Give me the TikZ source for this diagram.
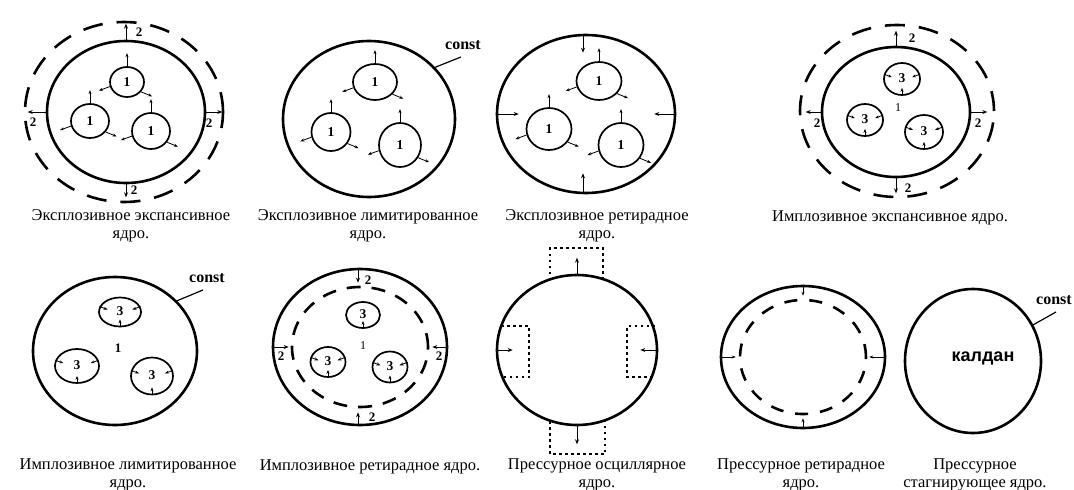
\documentclass[tikz,border=0pt]{standalone}
\usepackage{fontspec}
\setmainfont{Liberation Serif}
\newfontfamily\kaldanfont{Liberation Sans}
\usetikzlibrary{shapes.geometric,arrows.meta}

\tikzset{
  shell/.style={ellipse, draw, line width=2.6pt, inner sep=0pt},
  dashshell/.style={ellipse, draw, line width=2.6pt, inner sep=0pt},
  core/.style={ellipse, draw, line width=1.7pt, inner sep=0pt,
    font=\bfseries\fontsize{13.5}{13.5}\selectfont},
  tinyarr/.style={-{Stealth[length=4pt,width=3pt]}, line width=0.8pt},
  outarr/.style={-{Stealth[length=5pt,width=4pt]}, line width=1pt},
  numlbl/.style={font=\bfseries\fontsize{13}{13}\selectfont, inner sep=0pt},
  midlbl/.style={font=\fontsize{12}{12}\selectfont, inner sep=0pt},
  constlbl/.style={font=\bfseries\fontsize{16}{16}\selectfont, inner sep=0pt},
  leader/.style={line width=1.2pt},
  caption/.style={align=center, inner sep=0pt,
    font=\fontsize{16.5}{17.5}\selectfont},
  dotbox/.style={line width=1.8pt, dash pattern=on 2.5pt off 3.5pt}
}

% an exploding inner core: label 1, three arrows pointing outwards
\newcommand\expcore[5]{%
  \node[core, minimum width=#4, minimum height=#5] (#1) at (#2,#3) {1};
  \draw[tinyarr] (#1.north) -- ++(0,-13);
  \draw[tinyarr] (#1.195) -- ++(-11,4);
  \draw[tinyarr] (#1.-35) -- ++(11,4.5);
}
% an imploding inner core: label 3, arrows pointing inwards
\newcommand\impcore[5]{%
  \node[core, minimum width=#4, minimum height=#5] (#1) at (#2,#3) {\raisebox{1pt}{3}};
  \draw[tinyarr] (#1.165) -- ++(8,3);
  \draw[tinyarr] (#1.15) -- ++(-8,3);
  \draw[tinyarr] (#1.south) -- ++(0,-8);
}
\newcommand\impcoreup[5]{%
  \node[core, minimum width=#4, minimum height=#5] (#1) at (#2,#3) {\raisebox{1pt}{3}};
  \draw[tinyarr] (#1.south) -- ++(0,-8);
}

\begin{document}
\begin{tikzpicture}[x=1pt, y=-1pt]
\useasboundingbox (0,0) rectangle (1074,490);
\fill[white] (0,0) rectangle (1074,490);

% ---------- 1: explosive expansive core ----------
\node[dashshell, dash pattern=on 20pt off 14pt, minimum width=198, minimum height=180] (d1) at (124,112) {};
\node[shell, minimum width=158, minimum height=142] (o1) at (126,112) {};
\expcore{a1}{127}{82}{34}{30}
\expcore{b1}{90}{121}{38}{34}
\expcore{c1}{151}{131}{38}{36}
\draw[outarr] (o1.north) -- ++(0,-16);
\draw[outarr] (o1.west) -- ++(-18,0);
\draw[outarr] (o1.east) -- ++(16,0);
\draw[outarr] (o1.south) -- ++(0,13);
\node[numlbl] (t1n) at (139,32) {2};
\node[numlbl] (t1w) at (33,122) {2};
\node[numlbl] (t1e) at (209,123) {2};
\node[numlbl] (t1s) at (134,190) {2};
\node[caption] (cap1) at (131,226) {Эксплозивное экспансивное\\ядро.};

% ---------- 2: explosive limited core ----------
\node[shell, minimum width=172, minimum height=156] (o2) at (369,119) {};
\expcore{a2}{375}{82}{44}{36}
\expcore{b2}{331}{132}{39}{38}
\expcore{c2}{400}{145}{42}{44}
\coordinate (k2) at (461,57);
\draw[leader] (o2.38) -- (k2);
\node[constlbl] (const2) at (463,45) {const};
\node[caption] (cap2) at (368,226) {Эксплозивное лимитированное\\ядро.};

% ---------- 3: explosive retirade core ----------
\node[shell, minimum width=178, minimum height=158] (o3) at (586,114) {};
\expcore{a3}{599}{81}{45}{38}
\expcore{b3}{549}{129}{45}{42}
\expcore{c3}{621}{145}{45}{44}
\draw[outarr] ([xshift=-3pt]o3.north) -- ++(0,19);
\draw[outarr] (o3.west) -- ++(23,0);
\draw[outarr] (o3.east) -- ++(-22,0);
\draw[outarr] ([xshift=-3pt]o3.south) -- ++(0,-21);
\node[caption] (cap3) at (597,226) {Эксплозивное ретирадное\\ядро.};

% ---------- 4: implosive expansive core ----------
\node[dashshell, dash pattern=on 20pt off 14pt, minimum width=194, minimum height=172] (d4) at (897,111) {};
\node[shell, minimum width=148, minimum height=130] (o4) at (896,112) {};
\impcore{a4}{902}{79}{36}{32}
\impcore{b4}{865}{120}{36}{32}
\impcore{c4}{924}{132}{38}{34}
\node[midlbl] (m4) at (898,108) {1};
\draw[outarr] (o4.north) -- ++(0,-15);
\draw[outarr] (o4.west) -- ++(-15,0);
\draw[outarr] (o4.east) -- ++(16,0);
\draw[outarr] (o4.south) -- ++(0,15);
\node[numlbl] (t4n) at (912,38) {2};
\node[numlbl] (t4w) at (817,123) {2};
\node[numlbl] (t4e) at (978,123) {2};
\node[numlbl] (t4s) at (908,188) {2};
\node[caption] (cap4) at (890,218) {Имплозивное экспансивное ядро.};

% ---------- 5: implosive limited core ----------
\node[shell, minimum width=164, minimum height=148] (o5) at (115,351) {};
\impcore{a5}{120}{312}{42}{29}
\impcore{b5}{77}{366}{44}{34}
\impcore{c5}{152}{376}{42}{37}
\node[numlbl] (m5) at (118,348) {1};
\coordinate (k5) at (203,290);
\draw[leader] (o5.39) -- (k5);
\node[constlbl] (const5) at (207,278) {const};
\node[caption] (cap5) at (128,475) {Имплозивное лимитированное\\ядро.};

% ---------- 6: implosive retirade core ----------
\node[shell, minimum width=174, minimum height=156] (o6) at (360,347) {};
\node[dashshell, dash pattern=on 14pt off 11pt, minimum width=136, minimum height=120] (d6) at (360,347) {};
\impcoreup{a6}{363}{315}{34}{26}
\impcore{b6}{328}{362}{35}{30}
\impcore{c6}{390}{367}{35}{31}
\node[midlbl] (m6) at (363,346) {1};
\draw[outarr] ([xshift=-2pt]o6.north) -- ++(0,15);
\draw[outarr] (o6.west) -- ++(17,0);
\draw[outarr] (o6.east) -- ++(-16,0);
\draw[outarr] ([xshift=-2pt]o6.south) -- ++(0,-14);
\node[numlbl] (t6n) at (368,280) {2};
\node[numlbl] (t6w) at (281,356) {2};
\node[numlbl] (t6e) at (439,356) {2};
\node[numlbl] (t6s) at (372,417) {2};
\node[caption] (cap6) at (370,467) {Имплозивное ретирадное ядро.};

% ---------- 7: pressure oscillating core ----------
\node[shell, minimum width=160, minimum height=150] (o7) at (577,350) {};
\draw[dotbox] (550,280) -- (550,248) -- (603,248) -- (603,280);
\draw[dotbox] (550,421) -- (550,454) -- (605,454) -- (605,421);
\draw[dotbox] (501,326) -- (529,326) -- (529,377) -- (501,377);
\draw[dotbox] (655,326) -- (627,326) -- (627,377) -- (655,377);
\draw[outarr] (o7.north) -- ++(0,-16);
\draw[outarr] (o7.west) -- ++(17,0);
\draw[outarr] (o7.east) -- ++(-18,0);
\draw[outarr] (o7.south) -- ++(0,18);
\node[caption] (cap7) at (597,475) {Прессурное осциллярное\\ядро.};

% ---------- 8: pressure retirade core ----------
\node[shell, minimum width=164, minimum height=142] (o8) at (803,357) {};
\node[dashshell, dash pattern=on 13pt off 12pt, minimum width=126, minimum height=114] (d8) at (803,357) {};
\draw[tinyarr] (o8.north) -- ++(0,11);
\draw[tinyarr] (o8.west) -- ++(16,0);
\draw[tinyarr] (o8.east) -- ++(-17,0);
\draw[tinyarr] (o8.south) -- ++(0,-11);
\node[caption] (cap8) at (801,475) {Прессурное ретирадное\\ядро.};

% ---------- 9: pressure stagnating core ----------
\node[shell, minimum width=136, minimum height=144] (o9) at (973,361) {};
\node[font=\kaldanfont\bfseries\fontsize{18}{18}\selectfont, inner sep=0pt] (kal) at (983,358) {калдан};
\coordinate (k9) at (1056,312);
\draw[leader] (o9.31) -- (k9);
\node[constlbl] (const9) at (1054,300) {const};
\node[caption] (cap9) at (975,475) {Прессурное\\стагнирующее ядро.};
\end{tikzpicture}
\end{document}
